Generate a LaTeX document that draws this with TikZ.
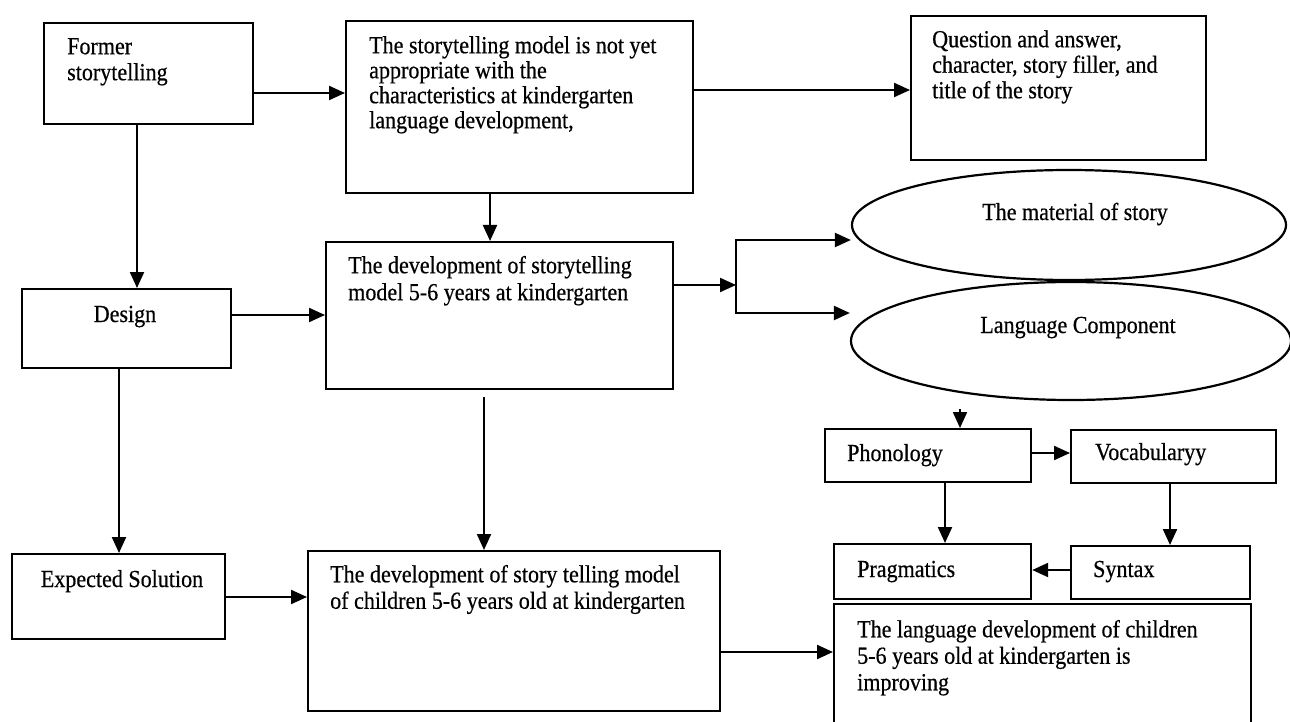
\documentclass[tikz,border=0pt]{standalone}
\usepackage{fontspec}
\setmainfont{Liberation Serif}[FakeStretch=0.9,FakeBold=0.5]
\usetikzlibrary{arrows.meta,shapes.geometric}
\begin{document}
\begin{tikzpicture}[x=1pt,y=-1pt,
  box/.style={draw, line width=2.2pt, inner sep=0pt, anchor=north west},
  oval/.style={draw, ellipse, line width=2.2pt, inner sep=0pt},
  txt/.style={inner sep=0pt, font=\fontsize{24.5}{26}\selectfont, align=left},
  arr/.style={line width=2.2pt, -{Triangle[length=16pt,width=14pt]}},
  ln/.style={line width=2.2pt}]
\path[use as bounding box] (0,0) rectangle (1290,722);
\clip (0,0) rectangle (1290,722);
\fill[white] (0,0) rectangle (1290,722);

% boxes
\node[box, minimum width=209pt, minimum height=101pt] (A) at (43,22) {};
\node[box, minimum width=347pt, minimum height=172pt] (B) at (345,20) {};
\node[box, minimum width=295pt, minimum height=144pt] (C) at (910,15) {};
\node[box, minimum width=347pt, minimum height=147pt] (D) at (325,241) {};
\node[box, minimum width=209pt, minimum height=79pt] (G) at (21,288) {};
\node[box, minimum width=213pt, minimum height=85pt] (X) at (11,553) {};
\node[box, minimum width=412pt, minimum height=160pt] (E) at (307,550) {};
\node[box, minimum width=206pt, minimum height=53pt] (P) at (824,428) {};
\node[box, minimum width=205pt, minimum height=53pt] (V) at (1070,429) {};
\node[box, minimum width=197pt, minimum height=55pt] (R) at (833,543) {};
\node[box, minimum width=179pt, minimum height=53pt] (S) at (1070,545) {};
\node[box, minimum width=417pt, minimum height=130pt] (F) at (833,603) {};
\node[oval, minimum width=434pt, minimum height=110pt] (M1) at (1069,225) {};
\node[oval, minimum width=440pt, minimum height=118pt] (M2) at (1071,341) {};

% texts
\node[txt, anchor=north west] (tA) at (67,35.8) {\strut Former\\storytelling};
\node[txt, anchor=north west, font=\fontsize{24.5}{25}\selectfont] (tB) at (369,35.5)
  {\strut The storytelling model is not yet\\appropriate with the\\characteristics at kindergarten\\language development,};
\node[txt, anchor=north west, font=\fontsize{24.5}{25.5}\selectfont] (tC) at (932,29.2)
  {\strut Question and answer,\\character, story filler, and\\title of the story};
\node[txt, anchor=north west, font=\fontsize{24.5}{27}\selectfont] (tD) at (348,254.1)
  {\strut The development of storytelling\\model 5-6 years at kindergarten};
\node[txt, anchor=base] (tG) at (125,322) {Design};
\node[txt, anchor=base] (tX) at (122,587) {Expected Solution};
\node[txt, anchor=north west, font=\fontsize{24.5}{26.5}\selectfont] (tE) at (330,563.5)
  {\strut The development of story telling model\\of children 5-6 years old at kindergarten};
\node[txt, anchor=north west, font=\fontsize{24.5}{26.5}\selectfont] (tF) at (857,618.5)
  {\strut The language development of children\\5-6 years old at kindergarten is\\improving};
\node[txt, anchor=base] (tM1) at (1075,220) {The material of story};
\node[txt, anchor=base] (tM2) at (1078,333) {Language Component};
\node[txt, anchor=base west] (tP) at (847,461) {Phonology};
\node[txt, anchor=base west] (tV) at (1095,460) {Vocabularyy};
\node[txt, anchor=base west] (tR) at (857,577) {Pragmatics};
\node[txt, anchor=base west] (tS) at (1093,577) {Syntax};

% connectors
\draw[arr] (A.east |- 0,93) -- (B.west |- 0,93);
\draw[arr] (B.east |- 0,90) -- (C.west |- 0,90);
\draw[arr] (A.south -| 137,0) -- (G.north -| 137,0);
\draw[arr] (B.south -| 490,0) -- (D.north -| 490,0);
\draw[arr] (G.east |- 0,315) -- (D.west |- 0,315);
\draw[arr] (G.south -| 119,0) -- (X.north -| 119,0);
\draw[arr, shorten <=7pt] (D.south -| 484,0) -- (E.north -| 484,0);
\draw[arr] (X.east |- 0,597) -- (E.west |- 0,597);
\coordinate (J) at (736,285);
\coordinate (J1) at (736,240);
\coordinate (J2) at (736,313);
\draw[arr] (D.east |- J) -- (J);
\draw[ln, line cap=rect] (J1) -- (J2);
\draw[arr] (J1) -- (M1.west |- J1);
\draw[arr] (J2) -- (M2.west |- J2);
\draw[arr, shorten <=8pt] (M2.south -| 960,0) -- (P.north -| 960,0);
\draw[arr] (P.east |- 0,453) -- (V.west |- 0,453);
\draw[arr] (P.south -| 945,0) -- (R.north -| 945,0);
\draw[arr] (V.south -| 1170,0) -- (S.north -| 1170,0);
\draw[arr] (S.west |- 0,570) -- (R.east |- 0,570);
\draw[arr] (E.east |- 0,652) -- (F.west |- 0,652);
\end{tikzpicture}
\end{document}
